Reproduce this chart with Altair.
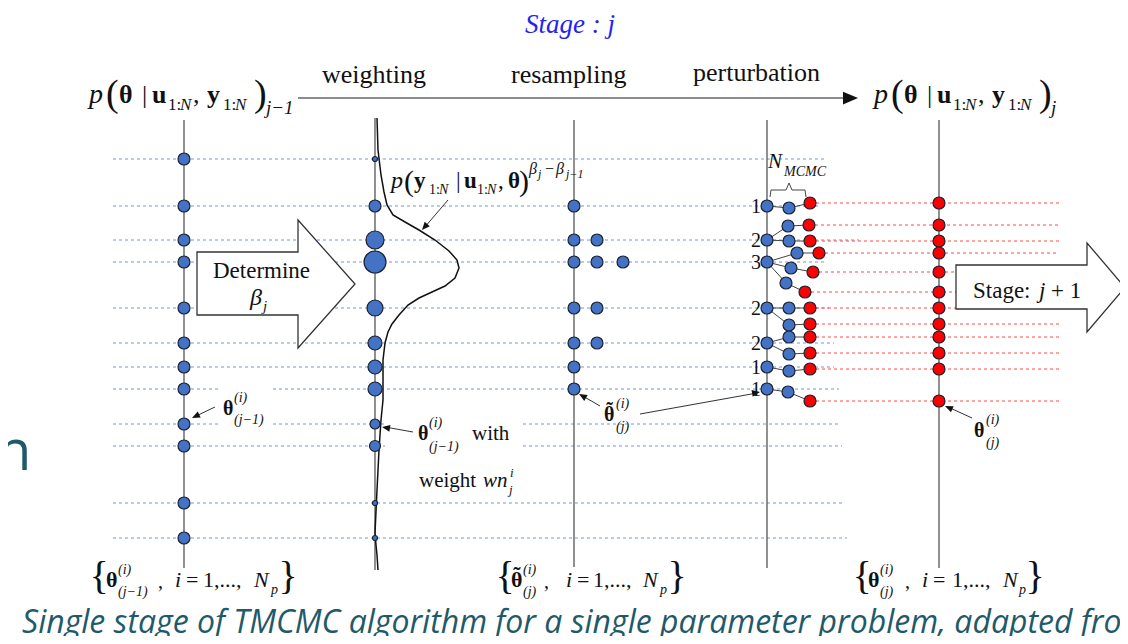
import altair as alt
import pandas as pd

# ------------------------------------------------------------------ data
# samples of stage j-1 (vertical position of each theta^(i))
theta_prev_y = [159, 206, 240, 262, 308, 343, 367, 389, 424, 446, 503, 538]
# plotted weight of each sample (dot diameter, px)
weight_diam = [5, 12, 18, 22, 16, 14, 14, 14, 10, 11, 5, 5]
# number of times each sample is kept by resampling
resample_counts = [0, 1, 2, 3, 2, 2, 1, 1, 0, 0, 0, 0]
# MCMC chains: root sample, intermediate step, final sample
chain_root_y = [206, 240, 240, 262, 262, 262, 308, 308, 343, 343, 367, 389]
chain_mid_x = [789, 788, 789, 797, 791, 786, 789, 789, 789, 789, 789, 788]
chain_mid_y = [208, 226, 241, 253, 268, 283, 308, 325, 337, 354, 371, 392]
chain_end_x = [810, 809, 810, 819, 813, 805, 810, 810, 810, 810, 810, 810]
theta_new_y = [203, 225, 241, 253, 272, 292, 308, 324, 337, 353, 369, 401]
# likelihood curve drawn next to the weighting column
curve_x = [377, 378, 381, 384, 387, 393, 405, 419, 435, 449, 457, 459, 455, 445, 432,
           419, 408, 399, 392, 388, 385, 383, 383, 381, 379, 377, 375, 376, 377, 378]
curve_y = [118, 150, 175, 192, 205, 215, 222, 230, 240, 251, 260, 268, 278, 286, 292,
           298, 305, 315, 324, 332, 343, 360, 400, 420, 450, 490, 533, 545, 555, 570]

# ------------------------------------------------------------------ layout
COL_X = [184, 375, 574, 767, 939]
COL_TOP = [120, 118, 120, 120, 120]
COL_BOT = [568, 570, 567, 568, 568]
RES_X = [574, 597, 623]
BLUE_START = 113
BLUE_END = [824, 820, 859, 827, 829, 834, 834, 839, 839, 842, 844, 847]
BLUE_GAPS = {389: [(218, 273)], 424: [(218, 273), (385, 523)], 446: [(385, 523)]}
RED_END = 1059

XS = alt.Scale(domain=[8, 1120], nice=False, zero=False)
YS = alt.Scale(domain=[8, 636], nice=False, zero=False, reverse=True)


def X(f="x"):
    return alt.X(f"{f}:Q", scale=XS, axis=None)


def Y(f="y"):
    return alt.Y(f"{f}:Q", scale=YS, axis=None)


def rules(rows, color, width, dash=None):
    df = pd.DataFrame(rows, columns=["x", "y", "x2", "y2"])
    kw = dict(color=color, strokeWidth=width, clip=True)
    if dash:
        kw["strokeDash"] = dash
    return alt.Chart(df).mark_rule(**kw).encode(
        x=X(), y=Y(), x2="x2:Q", y2="y2:Q")


# blue dashed guide lines
blue_rows = []
for y, xe in zip(theta_prev_y, BLUE_END):
    xs = BLUE_START
    for g0, g1 in BLUE_GAPS.get(y, []):
        blue_rows.append((xs, y, g0, y))
        xs = g1
    blue_rows.append((xs, y, xe, y))
blue_lines = rules(blue_rows, "#7398e0", 1, [3, 3])

# red dashed lines
red_rows = [(ex, ey, RED_END, ey) for ex, ey in zip(chain_end_x, theta_new_y)]
red_lines = rules(red_rows, "#ff4a4a", 1, [3, 3])

# vertical column lines
col_rows = [(x, t, x, b) for x, t, b in zip(COL_X, COL_TOP, COL_BOT)]
col_lines = rules(col_rows, "#555555", 1.3)

# main top arrow shaft
top_arrow = rules([(298, 98, 846, 98)], "#666666", 1.5)

# chain branches
branch_rows = []
for ry, mx, my, ex, ey in zip(chain_root_y, chain_mid_x, chain_mid_y, chain_end_x, theta_new_y):
    branch_rows.append((COL_X[3], ry, mx, my))
    branch_rows.append((mx, my, ex, ey))
branches = rules(branch_rows, "#444444", 1)

# pointer lines
pointer_rows = [(215, 407, 194, 417), (448, 200, 424, 228), (413, 432, 385, 427),
                (600, 406, 581, 395), (640, 414, 757, 393), (972, 418, 948, 407)]
pointers = rules(pointer_rows, "#333333", 1)

# likelihood curve
curve_df = pd.DataFrame({"x": curve_x, "y": curve_y, "o": range(len(curve_x))})
curve = alt.Chart(curve_df).mark_line(color="#111111", strokeWidth=1.5, clip=True).encode(
    x=X(), y=Y(), order="o:Q")


# block arrows (Determine beta_j, Stage j+1)
def block_arrow(x0, x1, x2, by0, by1, hy0, hy1, ty):
    df = pd.DataFrame({"x": [x0, x1, x1 + 0.01, x2],
                       "y": [by0, by0, hy0, ty], "y2": [by1, by1, hy1, ty]})
    return alt.Chart(df).mark_area(fill="white", stroke="#333333", strokeWidth=1.3,
                                   opacity=1, clip=True, interpolate="linear").encode(
        x=X(), y=Y(), y2="y2:Q")


arrow_det = block_arrow(197, 298, 355, 252, 315, 220, 348, 284)
arrow_stage = block_arrow(956, 1087, 1125, 265, 309, 243, 332, 287.5)

# dots
dot_rows = []
for y in theta_prev_y:
    dot_rows.append((COL_X[0], y, 12, "b"))
for y, d in zip(theta_prev_y, weight_diam):
    dot_rows.append((COL_X[1], y, d, "b"))
for y, n in zip(theta_prev_y, resample_counts):
    for k in range(n):
        dot_rows.append((RES_X[k], y, 12, "b"))
for y, n in zip(theta_prev_y, resample_counts):
    if n:
        dot_rows.append((COL_X[3], y, 12, "b"))
for mx, my, ex, ey in zip(chain_mid_x, chain_mid_y, chain_end_x, theta_new_y):
    dot_rows.append((mx, my, 12, "b"))
    dot_rows.append((ex, ey, 12, "r"))
for ey in theta_new_y:
    dot_rows.append((COL_X[4], ey, 12, "r"))
dots_df = pd.DataFrame(dot_rows, columns=["x", "y", "d", "k"])
dots_df["s"] = dots_df["d"] ** 2
dots_df["c"] = dots_df["k"].map({"b": "#4472c4", "r": "#ff0000"})
dots = alt.Chart(dots_df).mark_circle(stroke="#1a2233", strokeWidth=1.2, opacity=1,
                                      clip=True).encode(
    x=X(), y=Y(), size=alt.Size("s:Q", scale=None), color=alt.Color("c:N", scale=None))

# arrowheads (tip at the point, pointing along the angle)
head_df = pd.DataFrame({
    "x": [858, 192, 422, 382, 579, 760, 945],
    "y": [98, 418, 230, 427, 394, 392, 406],
    "a": [0, 154.4, 130.9, 189.2, 209.7, 349.6, 204.0],
    "s": [225, 64, 64, 64, 64, 64, 64],
})
heads = alt.Chart(head_df).mark_point(shape="M0,0L-2,-0.85L-2,0.85Z", filled=True,
                                      color="#111111", opacity=1, clip=True).encode(
    x=X(), y=Y(), angle=alt.Angle("a:Q", scale=None), size=alt.Size("s:Q", scale=None))

# ------------------------------------------------------------------ text
pieces = []  # text, x, baseline y, size, kind, color
BLK = "#111111"


def add(t, x, y, s, k="n", c=BLK):
    pieces.append((t, x, y, s, k, c))


add("Stage : j", 525, 33, 27, "i", "#2424f0")
add("weighting", 322, 83, 26)
add("resampling", 511, 83, 26)
add("perturbation", 693, 81, 26)

# p(theta | u, y) formulas
for dx, sub in [(0, "j−1"), (785, "j")]:
    add("p", 89 + dx, 103, 28, "i")
    add("(", 106 + dx, 106, 38)
    add("θ", 119 + dx, 103, 26, "b")
    add("|", 142 + dx, 103, 26)
    add("u", 152 + dx, 103, 26, "b")
    add("1:", 168 + dx, 110, 17)
    add("N", 180 + dx, 110, 17, "i")
    add(",", 193 + dx, 103, 26)
    add("y", 207 + dx, 103, 26, "b")
    add("1:", 223 + dx, 110, 17)
    add("N", 235 + dx, 110, 17, "i")
    add(")", 254 + dx, 106, 38)
    add(sub, 266 + dx, 114, 19, "i")

# likelihood formula
add("p", 391, 188, 24, "i")
add("(", 404, 191, 30)
add("y", 414, 188, 23, "b")
add("1:", 429, 194, 14)
add("N", 439, 194, 14, "i")
add("|", 456, 188, 23)
add("u", 464, 188, 23, "b")
add("1:", 477, 194, 14)
add("N", 487, 194, 14, "i")
add(",", 498, 188, 23)
add("θ", 508, 188, 23, "b")
add(")", 519, 191, 30)
add("β", 529, 174, 16, "i")
add("j", 538, 178, 12, "i")
add("−", 545, 174, 16)
add("β", 556, 174, 16, "i")
add("j−1", 566, 178, 12, "i")

# Determine beta_j
add("Determine", 213, 278, 23)
add("β", 250, 305, 24, "i")
add("j", 263, 311, 15, "i")

# Stage: j + 1
add("Stage:", 973, 298, 23)
add("j", 1039, 298, 23, "i")
add("+ 1", 1051, 298, 23)

# annotations
add("θ", 223, 415, 20, "b")
add("(i)", 234, 402, 14, "i")
add("(j−1)", 234, 424, 14, "i")

add("θ", 418, 440, 20, "b")
add("(i)", 429, 427, 14, "i")
add("(j−1)", 429, 451, 14, "i")
add("with", 472, 440, 21)
add("weight", 419, 487, 21)
add("wn", 483, 487, 21, "i")
add("i", 510, 477, 13, "i")
add("j", 509, 494, 13, "i")

add("θ", 604, 421, 20, "b")
add("(i)", 616, 408, 14, "i")
add("(j)", 616, 431, 14, "i")

add("θ", 974, 437, 20, "b")
add("(i)", 986, 424, 14, "i")
add("(j)", 986, 447, 14, "i")

add("N", 768, 168, 21, "i")
add("MCMC", 784, 176, 14, "i")

# bottom sets
for (th, tx, sub, cx, ix, ex, onex, nx, px) in [
        ("θ", 106, "(j−1)", 158, 175, 186, 203, 254, 271),
        ("θ", 511, "(j)", 544, 566, 577, 593, 643, 660),
        ("θ", 868, "(j)", 905, 922, 933, 952, 1003, 1019)]:
    add(th, tx, 587, 22, "b")
    add("(i)", tx + 12, 574, 14, "i")
    add(sub, tx + 12, 596, 14, "i")
    add(",", cx, 588, 20)
    add("i", ix, 587, 22, "i")
    add("=", ex, 587, 22)
    add("1,...,", onex, 587, 22)
    add("N", nx, 587, 22, "i")
    add("p", px, 594, 14, "i")

txt_df = pd.DataFrame(pieces, columns=["t", "x", "y", "s", "k", "c"])


def text_layer(df, style, weight, align="left", font="Liberation Serif"):
    return alt.Chart(df).mark_text(align=align, baseline="alphabetic", font=font,
                                   fontStyle=style, fontWeight=weight, clip=True).encode(
        x=X(), y=Y(), text="t:N", size=alt.Size("s:Q", scale=None),
        color=alt.Color("c:N", scale=None))


t_n = text_layer(txt_df[txt_df.k == "n"], "normal", "normal")
t_i = text_layer(txt_df[txt_df.k == "i"], "italic", "normal")
t_b = text_layer(txt_df[txt_df.k == "b"], "normal", "bold")

# tildes over resampled thetas
tilde_df = pd.DataFrame({"t": ["˜", "˜"], "x": [609.5, 517], "y": [417, 582],
                         "s": [20, 22], "c": [BLK, BLK]})
t_tilde = text_layer(tilde_df, "normal", "bold", align="center")

# braces of the set notation
brace_df = pd.DataFrame({"t": ["{", "}", "{", "}", "{", "}"],
                         "x": [99, 288, 505, 677, 862, 1035],
                         "y": [589] * 6, "s": [40] * 6, "c": [BLK] * 6})
t_brace = text_layer(brace_df, "normal", "normal", align="center")

# multiplicity labels of the perturbation column
lab_rows = [(str(n), 761, y + 7, 20, BLK) for y, n in zip(theta_prev_y, resample_counts) if n]
lab_df = pd.DataFrame(lab_rows, columns=["t", "x", "y", "s", "c"])
t_lab = text_layer(lab_df, "normal", "normal", align="right")

# N_MCMC brace
br_df = pd.DataFrame({"x": [770, 771, 786, 789, 792, 805, 806],
                      "y": [197, 190, 190, 183, 190, 190, 197], "o": range(7)})
nbrace = alt.Chart(br_df).mark_line(color="#444444", strokeWidth=1, clip=True).encode(
    x=X(), y=Y(), order="o:Q")

# caption (page text)
TEAL = "#1f5a6a"
cap_df = pd.DataFrame({"t": ["Single stage of TMCMC algorithm for a single parameter problem, adapted from", "n"],
                       "x": [22, -3], "y": [633, 470], "s": [32, 56], "c": [TEAL, TEAL]})
t_cap_i = text_layer(cap_df.iloc[[0]], "italic", "normal", font="Open Sans")
t_cap_n = text_layer(cap_df.iloc[[1]], "normal", "normal", font="Open Sans")

chart = alt.layer(
    blue_lines, red_lines, col_lines, top_arrow, curve, branches, pointers, nbrace,
    arrow_det, arrow_stage, dots, heads,
    t_n, t_i, t_b, t_tilde, t_brace, t_lab, t_cap_i, t_cap_n,
).properties(
    width=1112, height=628, padding=0,
    autosize=alt.AutoSizeParams(type="fit", contains="padding"),
    background="white",
).configure_view(stroke=None)

chart.save("out.html", embed_options={"renderer": "svg", "actions": False})
